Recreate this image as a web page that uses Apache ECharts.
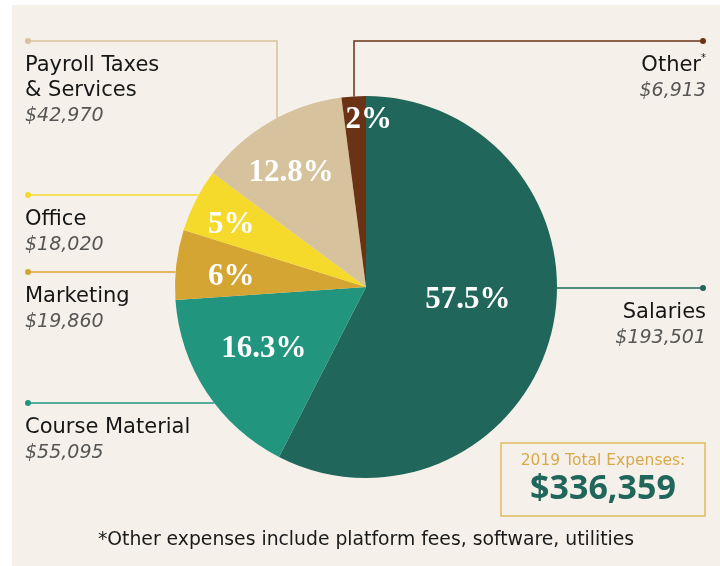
<!DOCTYPE html>
<html>
<head>
<meta charset="utf-8">
<script src="https://cdn.jsdelivr.net/npm/echarts@6/dist/echarts.min.js"></script>
<style>
  html, body { margin: 0; padding: 0; background: #fff; }
  #main { width: 720px; height: 566px; }
</style>
</head>
<body>
<div id="main"></div>
<script>
// expense categories, clockwise from 12 o'clock
var categories = ["Salaries", "Course Material", "Marketing", "Office", "Payroll Taxes\n& Services", "Other*"];
var amounts = [193501, 55095, 19860, 18020, 42970, 6913];
var pctLabels = ["57.5%", "16.3%", "6%", "5%", "12.8%", "2%"];
var colors = ["#20665a", "#22957f", "#d4a533", "#f5da2b", "#d6c29c", "#6b3215"];
var totalTitle = "2019 Total Expenses:";
var footnote = "*Other expenses include platform fees, software, utilities";

// where each callout goes (layout only)
var sides = ["right", "left", "left", "left", "left", "right"];
var lineYs = [288, 403, 272, 195, 41, 41];
var elbowXs = [null, null, null, null, 277, 354];
var pctNudge = [[6, -10], [-20, 8], [-37, 1], [-47, -17], [-25, -29], [9, -69]];

var CX = 366, CY = 287, R = 191;
var LEFT_X = 28, RIGHT_X = 703;
var BEIGE = "#f5f1ea";
var SANS = '"DejaVu Sans", sans-serif';

var total = amounts.reduce(function (a, b) { return a + b; }, 0);

function money(v) {
  return "$" + v.toLocaleString("en-US");
}

function richFor(color) {
  var r = {};
  ["L", "R"].forEach(function (s) {
    var al = s === "L" ? "left" : "right";
    r["dot" + s] = { width: 6, height: 6, borderRadius: 3, backgroundColor: color, lineHeight: 25, align: al };
    r["name" + s] = { fontFamily: SANS, fontSize: 21, color: "#161616", lineHeight: 25, align: al };
    r["val" + s] = { fontFamily: SANS, fontSize: 19, fontStyle: "italic", color: "#555", lineHeight: 26, align: al };
  });
  r.sup = { fontFamily: SANS, fontSize: 10, color: "#161616", lineHeight: 25, verticalAlign: "top", align: "right" };
  return r;
}

function nameLabel(p) {
  var s = sides[p.dataIndex] === "left" ? "L" : "R";
  var rows = ["{dot" + s + "|}"];
  p.name.split("\n").forEach(function (t) {
    var star = t.charAt(t.length - 1) === "*";
    rows.push("{name" + s + "|" + (star ? t.slice(0, -1) : t) + "}" + (star ? "{sup|*}" : ""));
  });
  rows.push("{val" + s + "|" + money(p.value) + "}");
  return rows.join("\n");
}

var pieData = categories.map(function (c, i) {
  return {
    name: c,
    value: amounts[i],
    itemStyle: { color: colors[i] },
    label: { rich: richFor(colors[i]) }
  };
});

var myChart = echarts.init(document.getElementById("main"));

var option = {
  animation: false,
  graphic: [
    { type: "rect", z: -10, shape: { x: 12, y: 5, width: 708, height: 561 }, style: { fill: BEIGE } },
    { type: "rect", shape: { x: 501, y: 443, width: 204, height: 73 }, style: { fill: BEIGE, stroke: "#dfba5f", lineWidth: 1.5 } },
    { type: "text", style: { text: totalTitle, x: 603, y: 461, align: "center", verticalAlign: "middle", font: "15.5px " + SANS, fill: "#d9a84a" } },
    { type: "text", style: { text: money(total), x: 603, y: 489, align: "center", verticalAlign: "middle", font: 'bold 34px "Open Sans", sans-serif', fill: "#20665a" } },
    { type: "text", style: { text: footnote, x: 366, y: 540, align: "center", verticalAlign: "middle", font: "18.8px " + SANS, fill: "#1a1a1a" } }
  ],
  series: [
    {
      name: "Expenses",
      type: "pie",
      center: [CX, CY],
      radius: R,
      startAngle: 90,
      clockwise: true,
      avoidLabelOverlap: false,
      emphasis: { disabled: true },
      data: pieData,
      label: {
        show: true,
        position: "outside",
        overflow: "none",
        formatter: nameLabel
      },
      labelLine: { show: true, length: 10, length2: 10, lineStyle: { width: 1.5 } },
      labelLayout: function (p) {
        var i = p.dataIndex;
        var left = sides[i] === "left";
        var y = lineYs[i];
        var endX = left ? LEFT_X : RIGHT_X;
        var pts;
        if (elbowXs[i] != null) {
          var ex = elbowXs[i];
          var ey = CY - Math.sqrt(R * R - (ex - CX) * (ex - CX));
          pts = [[ex, ey], [ex, y], [endX, y]];
        } else {
          var d = Math.sqrt(R * R - (y - CY) * (y - CY));
          var sx = left ? CX - d : CX + d;
          pts = [[sx, y], [(sx + endX) / 2, y], [endX, y]];
        }
        return {
          x: left ? LEFT_X - 3 : RIGHT_X + 3,
          y: y - 12.5,
          align: left ? "left" : "right",
          verticalAlign: "top",
          labelLinePoints: pts
        };
      }
    },
    {
      // percentage labels sit on top of the same slices
      name: "Share",
      type: "pie",
      silent: true,
      z: 3,
      center: [CX, CY],
      radius: R,
      startAngle: 90,
      clockwise: true,
      emphasis: { disabled: true },
      itemStyle: { color: "rgba(0,0,0,0)" },
      data: amounts.map(function (v, i) { return { name: categories[i], value: v }; }),
      label: {
        show: true,
        position: "inside",
        formatter: function (p) { return pctLabels[p.dataIndex]; },
        color: "#fff",
        fontFamily: '"Liberation Serif", serif',
        fontWeight: "bold",
        fontSize: 31
      },
      labelLine: { show: false },
      labelLayout: function (p) {
        return { dx: pctNudge[p.dataIndex][0], dy: pctNudge[p.dataIndex][1] };
      }
    }
  ]
};

myChart.setOption(option);
</script>
</body>
</html>
